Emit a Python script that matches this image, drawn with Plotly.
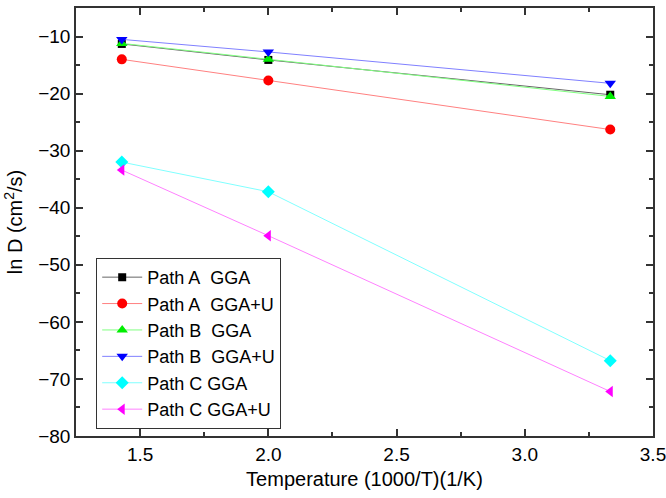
import plotly.graph_objects as go

temps = [1.4286, 2.0, 3.3333]
names = ["Path A\u00a0\u00a0GGA", "Path A\u00a0\u00a0GGA+U", "Path B\u00a0\u00a0GGA",
         "Path B\u00a0\u00a0GGA+U", "Path C GGA", "Path C GGA+U"]
path_a_gga = [-11.3, -14.1, -20.2]
path_a_ggau = [-14.0, -17.7, -26.3]
path_b_gga = [-11.2, -14.0, -20.5]
path_b_ggau = [-10.5, -12.7, -18.2]
path_c_gga = [-32.0, -37.2, -66.8]
path_c_ggau = [-33.4, -44.9, -72.2]

series = [path_a_gga, path_a_ggau, path_b_gga, path_b_ggau, path_c_gga, path_c_ggau]
marker_colors = ["#000000", "#ff0000", "#00ee00", "#0000ff", "#00ffff", "#ff00ff"]
line_colors = ["#666666", "#ff8080", "#80ff80", "#8080ff", "#80ffff", "#ff80ff"]
symbols = ["square", "circle", "triangle-up", "triangle-down", "diamond", "triangle-left"]
sizes = [8, 10, 10, 10, 10, 10]

fig = go.Figure()
for name, ys, mc, lc, sym, sz in zip(names, series, marker_colors, line_colors, symbols, sizes):
    fig.add_trace(go.Scatter(
        x=temps, y=ys, name=name, mode="lines+markers",
        line=dict(color=lc, width=1),
        marker=dict(color=mc, symbol=sym, size=sz, line=dict(width=0)),
    ))

fam = "Arial, Liberation Sans, sans-serif"
tick_font = dict(family=fam, size=19, color="#000000")
title_font = dict(family=fam, size=20, color="#000000")
axis_common = dict(
    showline=True, linecolor="#333333", linewidth=1.5, mirror="ticks",
    ticks="inside", ticklen=7, tickwidth=1.5, tickcolor="#333333",
    showgrid=False, zeroline=False, automargin=False,
    tickfont=tick_font, ticklabeloverflow="allow",
)

fig.update_layout(
    width=666, height=498,
    margin=dict(l=76, r=13, t=8, b=62),
    paper_bgcolor="white", plot_bgcolor="white",
    font=tick_font,
    showlegend=True,
    legend=dict(
        x=0.035, y=0.416, xanchor="left", yanchor="top",
        bordercolor="#333333", borderwidth=1, bgcolor="white",
        font=dict(family=fam, size=18, color="#000000"),
        tracegroupgap=0, itemwidth=40,
    ),
    xaxis=dict(
        range=[1.25, 3.5], tickvals=[1.5, 2.0, 2.5, 3.0, 3.5],
        ticktext=["1.5", "2.0", "2.5", "3.0", "3.5"],
        minor=dict(ticks="inside", ticklen=4, tickwidth=1.5, tickcolor="#333333",
                   tickvals=[1.25, 1.75, 2.25, 2.75, 3.25], showgrid=False),
        title=dict(text="Temperature (1000/T)(1/K)", font=title_font, standoff=8),
        **axis_common,
    ),
    yaxis=dict(
        range=[-80, -5], tickvals=[-80, -70, -60, -50, -40, -30, -20, -10],
        minor=dict(ticks="inside", ticklen=4, tickwidth=1.5, tickcolor="#333333",
                   tickvals=[-75, -65, -55, -45, -35, -25, -15], showgrid=False),
        title=dict(text="ln D (cm<sup>2</sup>/s)", font=title_font, standoff=10),
        **axis_common,
    ),
)

fig.write_html(
    "out.html",
    config={"displayModeBar": False},
    post_script="document.body.style.margin='0';document.body.style.overflow='hidden';",
)
